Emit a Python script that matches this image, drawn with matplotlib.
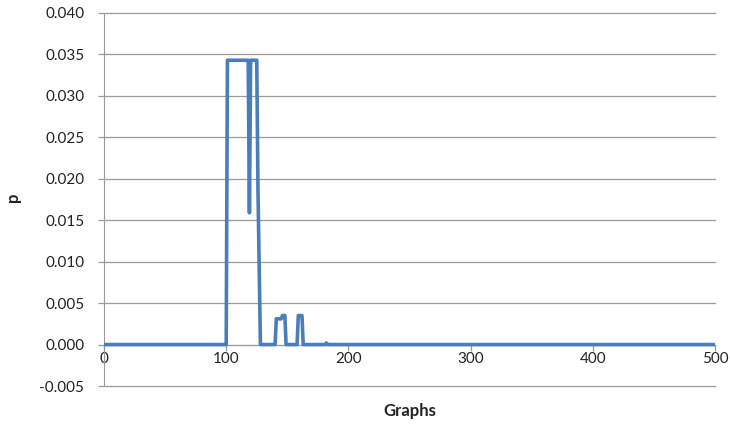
import matplotlib
matplotlib.use('Agg')
import matplotlib.pyplot as plt
import numpy as np

plt.rcParams['font.family'] = ['Lato', 'DejaVu Sans']

# vertices of the p curve
graphs = [0, 100, 101, 118, 119, 120, 125, 126, 128, 140, 141, 145, 146, 148,
          149, 158, 159, 162, 163, 181, 182, 183, 500]
p_vals = [0, 0, 0.0343, 0.0343, 0.0159, 0.0343, 0.0343, 0.0186, 0, 0, 0.0031,
          0.0031, 0.0035, 0.0035, 0, 0, 0.0035, 0.0035, 0, 0, 0.0002, 0, 0]

x_ticks = [0, 100, 200, 300, 400, 500]
y_ticks = [-0.005, 0.0, 0.005, 0.010, 0.015, 0.020, 0.025, 0.030, 0.035, 0.040]

grid_col = '#9a9a9a'
fig = plt.figure(figsize=(7.3, 4.25), dpi=100)
ax = fig.add_axes([104/730, 1-386/425, (715-104)/730, (386-13)/425])

ax.plot(graphs, p_vals, color='#4a7ebb', lw=2.6, solid_joinstyle='round', zorder=3)

ax.set_xlim(0, 500)
ax.set_ylim(-0.005, 0.040)
ax.set_xticks(x_ticks)
ax.set_yticks(y_ticks)
ax.set_yticklabels([f'{v:.3f}' for v in y_ticks])
# gridlines drawn by hand so the edge ones are not clipped
for v in y_ticks:
    ax.axhline(v, color=grid_col, lw=0.9, zorder=1, clip_on=False)

for s in ['top', 'right']:
    ax.spines[s].set_visible(False)
ax.spines['bottom'].set_position(('data', 0))
ax.spines['bottom'].set_color(grid_col)
ax.spines['left'].set_color(grid_col)
ax.tick_params(axis='y', length=4.3, width=0.9, color=grid_col, pad=10,
               labelsize=11, labelcolor='#222222')
ax.tick_params(axis='x', length=4.3, width=0.9, color=grid_col, pad=1.2,
               labelsize=11, labelcolor='#222222')

fig.text((104+715)/2/730, 1-411/425, 'Graphs', ha='center', va='center',
         fontweight='bold', fontsize=12, color='#222222')
fig.text(13/730, 1-197/425, 'p', ha='center', va='center', rotation=90,
         fontweight='bold', fontsize=12, color='#222222')

fig.savefig('out.png', dpi=100)
